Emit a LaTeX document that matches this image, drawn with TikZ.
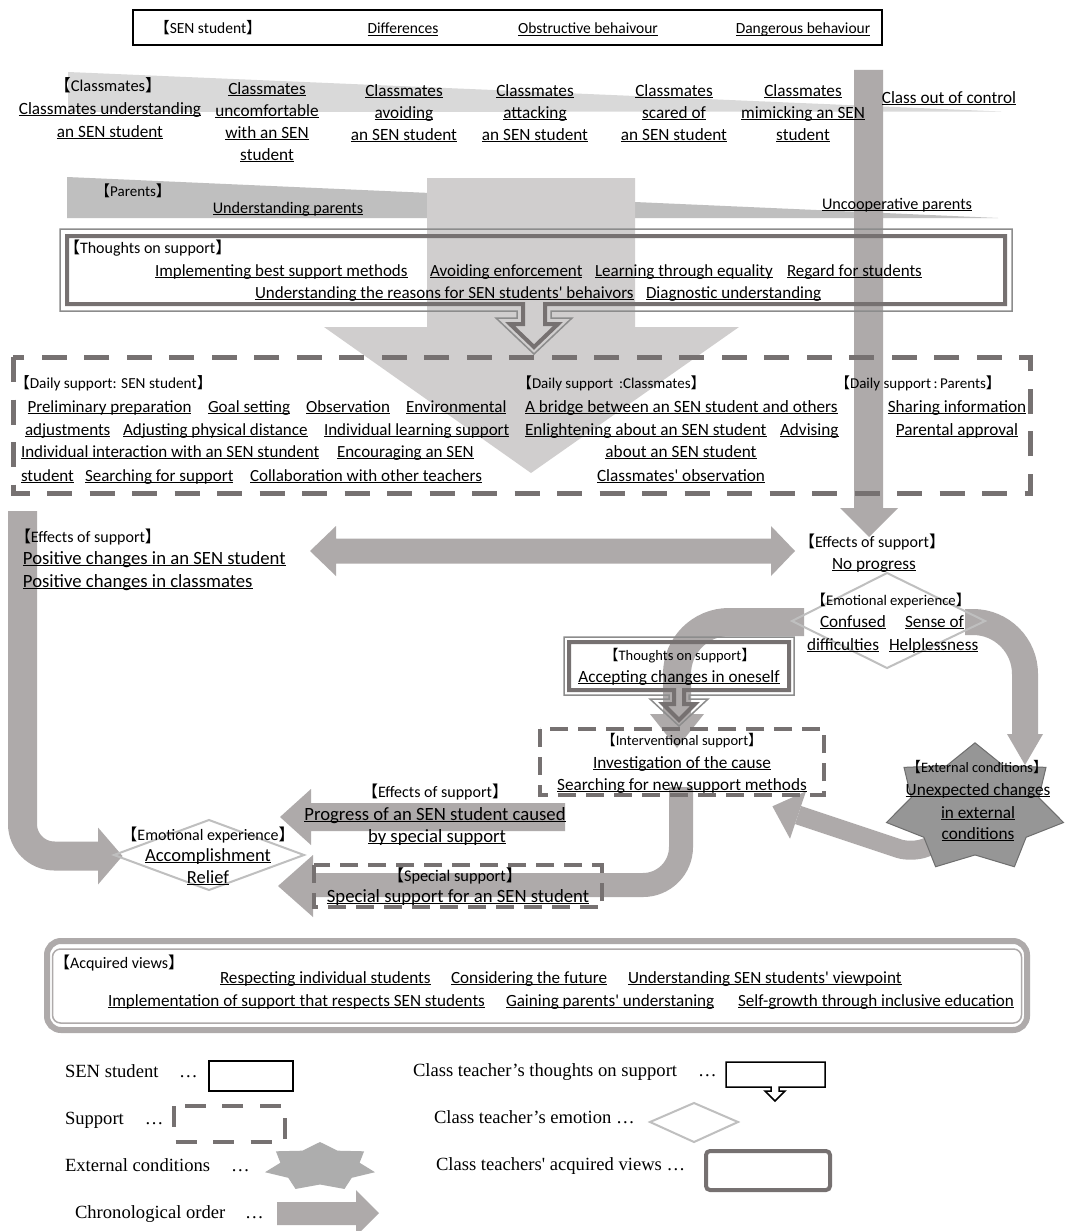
\documentclass[tikz,border=0pt]{standalone}
\usepackage{fontspec}
\setmainfont{Carlito}[Ligatures=TeXOff]
\newfontfamily\cjk{Noto Sans CJK JP}
\newfontfamily\tms{Liberation Serif}[Ligatures=TeXOff]
\definecolor{bandA}{HTML}{D9D9D9}
\definecolor{bandB}{HTML}{BFBFBF}
\definecolor{bigA}{HTML}{D0CECE}
\definecolor{chrono}{HTML}{AEAAAA}
\definecolor{dashC}{HTML}{767171}
\definecolor{thinC}{HTML}{8C8C8C}
\definecolor{diaC}{HTML}{BFBFBF}
\definecolor{starF}{HTML}{969696}
\definecolor{starD}{HTML}{6E6E6E}
\definecolor{starL}{HTML}{ADADAD}
\newsavebox\ulbx
\newcommand\uln[1]{\sbox\ulbx{#1}\rlap{\rule[-0.13em]{\wd\ulbx}{0.065em}}\usebox\ulbx}
\newcommand\hdr[1]{{\cjk 【}#1{\cjk 】}}
\newcommand\fsz[1]{\fontsize{#1}{#1}\selectfont}
\begin{document}
\begin{tikzpicture}[x=1pt,y=-1pt,
 txt/.style={inner sep=0pt,outer sep=0pt,anchor=base},
 txw/.style={txt,anchor=base west},
 bigdash/.style={draw=dashC,line width=5pt,dash pattern=on 25pt off 17.5pt},
 smdash/.style={draw=dashC,line width=4pt,dash pattern=on 18pt off 10pt},
 dia/.style={draw=diaC,line width=2pt,line join=miter},
 thinline/.style={draw=thinC,line width=1.5pt,line join=miter},
 thickline/.style={draw=dashC,line width=4pt,line join=miter}]

\useasboundingbox (0,0) rectangle (1067,1231);
\fill[white] (0,0) rectangle (1067,1231);

% ---- bands
\fill[bandA] (68,72) -- (1001,111.5) -- (68,112) -- cycle;
\fill[bandB] (67,177) -- (998,218) -- (67,218) -- cycle;
% ---- big light arrow
\fill[bigA] (427,178) -- (635,178) -- (635,327) -- (739,327) -- (531,473) -- (324,327) -- (427,327) -- cycle;
% ---- right vertical arrow
\fill[chrono] (854,70) -- (883,70) -- (883,508) -- (898,508) -- (869,537) -- (840,508) -- (854,508) -- cycle;
% ---- left effects arrow
\draw[chrono, line width=29pt, rounded corners=32pt] (22.5,511) -- (22.5,856) -- (99,856);
\fill[chrono] (98,827.5) -- (122.5,856) -- (98,884.5) -- cycle;
% ---- double arrow
\fill[chrono] (310,551) -- (336,526) -- (336,538.5) -- (771,538.5) -- (771,526) -- (795,551) -- (771,576) -- (771,563.5) -- (336,563.5) -- (336,576) -- cycle;
% ---- arc from diamond to the left
\draw[chrono, line width=28pt, rounded corners=52pt] (804,622) -- (677,622) -- (677,715);
\fill[chrono] (650,714) -- (704,714) -- (677,748) -- cycle;
% ---- interventional -> accomplishment
\draw[chrono, line width=24pt, rounded corners=38pt] (681,787) -- (681,885) -- (312,885);
\fill[chrono] (313,855) -- (313,917) -- (278,886) -- cycle;
% ---- progress arrow
\fill[chrono] (280,817) -- (311,789) -- (311,803) -- (565,803) -- (565,831) -- (311,831) -- (311,845) -- cycle;
% ---- star arrow
\draw[chrono, line width=19pt, rounded corners=14pt] (950,838) -- (912,853) -- (798,815);
\fill[chrono] (806,791.3) -- (772.4,806.3) -- (790,838.7) -- cycle;
% ---- star
\filldraw[fill=starF, draw=starD, line width=1pt] plot[samples at={0,...,13}] ({975+90.8*(0.86+0.14*cos(\x*180))*cos(90+\x*360/14)}, {808-65.2*(0.86+0.14*cos(\x*180))*sin(90+\x*360/14)}) -- cycle;
% ---- arc from diamond to the right
\draw[chrono, line width=26pt, rounded corners=52pt] (965,622) -- (1025,622) -- (1025,735);
\fill[chrono] (1007,734) -- (1043,734) -- (1025,765) -- cycle;

% ---- boxes
\draw[black, line width=2pt] (133,10) rectangle (882,45);
\draw[thinline] (60,229) -- (1012,229) -- (1012,311) -- (551,311) -- (551,318) -- (572,318) -- (534,354) -- (496,318) -- (517,318) -- (517,311) -- (60,311) -- cycle;
\draw[thickline] (67,236) -- (1005,236) -- (1005,304) -- (545,304) -- (545,324) -- (558,324) -- (534,347) -- (510,324) -- (523,324) -- (523,304) -- (67,304) -- cycle;
\draw[bigdash] (13,357) rectangle (1030,493);
\draw[thinline] (564,637) -- (794,637) -- (794,695) -- (689,695) -- (689,699) -- (708,699) -- (679,726) -- (650,699) -- (669,699) -- (669,695) -- (564,695) -- cycle;
\draw[thickline] (569,642) -- (789,642) -- (789,690) -- (684,690) -- (684,704) -- (695,704) -- (679,720) -- (663,704) -- (674,704) -- (674,690) -- (569,690) -- cycle;
\draw[smdash] (540,729) rectangle (824,795);
\draw[smdash] (314,865) rectangle (602,907);
\draw[dia] (887,573) -- (985,621) -- (887,668) -- (792,621) -- cycle;
\draw[dia] (209,820) -- (304,855) -- (209,890) -- (114,855) -- cycle;
\draw[chrono, line width=6pt, rounded corners=14pt] (47,941) rectangle (1027,1030);
\draw[chrono, line width=1.5pt, rounded corners=8pt] (52.5,949) rectangle (1021.5,1023);

% ---- header texts
\node[txt, font=\fsz{15.5}] (hs) at (208,34) {\hdr{SEN student}};
\node[txt, font=\fsz{15.5}] (hd1) at (403,34) {\uln{Differences}};
\node[txt, font=\fsz{15.5}] (hd2) at (588,34) {\uln{Obstructive behaivour}};
\node[txt, font=\fsz{15.5}] (hd3) at (803,34) {\uln{Dangerous behaviour}};

% ---- classmates
\node[txt, font=\fsz{16.5}] (cm0) at (108,91) {\hdr{Classmates}};
\node[txt, font=\fsz{17.2}] (c1a) at (110,114) {\uln{Classmates understanding}};
\node[txt, font=\fsz{17.2}] (c1b) at (110,137) {\uln{an SEN student}};
\node[txt, font=\fsz{17.2}] (c2a) at (267,94) {\uln{Classmates}};
\node[txt, font=\fsz{17.2}] (c2b) at (267,116) {\uln{uncomfortable}};
\node[txt, font=\fsz{17.2}] (c2c) at (267,138) {\uln{with an SEN}};
\node[txt, font=\fsz{17.2}] (c2d) at (267,160) {\uln{student}};
\node[txt, font=\fsz{17.2}] (c3a) at (404,96) {\uln{Classmates}};
\node[txt, font=\fsz{17.2}] (c3b) at (404,118) {\uln{avoiding}};
\node[txt, font=\fsz{17.2}] (c3c) at (404,140) {\uln{an SEN student}};
\node[txt, font=\fsz{17.2}] (c4a) at (535,96) {\uln{Classmates}};
\node[txt, font=\fsz{17.2}] (c4b) at (535,118) {\uln{attacking}};
\node[txt, font=\fsz{17.2}] (c4c) at (535,140) {\uln{an SEN student}};
\node[txt, font=\fsz{17.2}] (c5a) at (674,96) {\uln{Classmates}};
\node[txt, font=\fsz{17.2}] (c5b) at (674,118) {\uln{scared of}};
\node[txt, font=\fsz{17.2}] (c5c) at (674,140) {\uln{an SEN student}};
\node[txt, font=\fsz{17.2}] (c6a) at (803,96) {\uln{Classmates}};
\node[txt, font=\fsz{17.2}] (c6b) at (803,118) {\uln{mimicking an SEN}};
\node[txt, font=\fsz{17.2}] (c6c) at (803,140) {\uln{student}};
\node[txt, font=\fsz{17.2}] (c7) at (949,103) {\uln{Class out of control}};

% ---- parents
\node[txt, font=\fsz{15}] (pa0) at (133,196) {\hdr{Parents}};
\node[txt, font=\fsz{16.2}] (pa1) at (288,213) {\uln{Understanding parents}};
\node[txt, font=\fsz{16.2}] (pa2) at (897,209) {\uln{Uncooperative parents}};

% ---- thoughts on support
\node[txw, font=\fsz{16}] (th0) at (64,253) {\hdr{Thoughts on support}};
\node[txw, font=\fsz{17}] (th1) at (155,276) {\uln{Implementing best support methods}};
\node[txw, font=\fsz{17}] (th2) at (430,276) {\uln{Avoiding enforcement}};
\node[txw, font=\fsz{17}] (th3) at (595,276) {\uln{Learning through equality}};
\node[txw, font=\fsz{17}] (th4) at (787,276) {\uln{Regard for students}};
\node[txw, font=\fsz{17}] (th5) at (255,298) {\uln{Understanding the reasons for SEN students' behaivors}};
\node[txw, font=\fsz{17}] (th6) at (646,298) {\uln{Diagnostic understanding}};

% ---- daily support
\node[txw, font=\fsz{15.3}] (ds0) at (14.5,388) {\hdr{Daily support: SEN student}};
\node[txw, font=\fsz{17}] (d1) at (27.5,412) {\uln{Preliminary preparation}};
\node[txw, font=\fsz{17}] (d2) at (208,412) {\uln{Goal setting}};
\node[txw, font=\fsz{17}] (d3) at (306,412) {\uln{Observation}};
\node[txw, font=\fsz{17}] (d4) at (406,412) {\uln{Environmental}};
\node[txw, font=\fsz{17}] (d5) at (25,435) {\uln{adjustments}};
\node[txw, font=\fsz{17}] (d6) at (123,435) {\uln{Adjusting physical distance}};
\node[txw, font=\fsz{17}] (d7) at (324,435) {\uln{Individual learning support}};
\node[txw, font=\fsz{17}] (d8) at (21,457) {\uln{Individual interaction with an SEN stundent}};
\node[txw, font=\fsz{17}] (d9) at (337,457) {\uln{Encouraging an SEN}};
\node[txw, font=\fsz{17}] (d10) at (21,481) {\uln{student}};
\node[txw, font=\fsz{17}] (d11) at (85,481) {\uln{Searching for support}};
\node[txw, font=\fsz{17}] (d12) at (250,481) {\uln{Collaboration with other teachers}};
\node[txw, font=\fsz{15}] (dc0) at (517,388) {\hdr{Daily support\ \,:Classmates}};
\node[txw, font=\fsz{17.2}] (dc1) at (525,412) {\uln{A bridge between an SEN student and others}};
\node[txw, font=\fsz{17.2}] (dc2) at (525,435) {\uln{Enlightening about an SEN student}};
\node[txw, font=\fsz{17.2}] (dc3) at (780,435) {\uln{Advising}};
\node[txt, font=\fsz{17.2}] (dc4) at (681,457) {\uln{about an SEN student}};
\node[txt, font=\fsz{17.2}] (dc5) at (681,481) {\uln{Classmates' observation}};
\node[txt, font=\fsz{15}] (dp0) at (918,388) {\hdr{Daily support\,:\,Parents}};
\node[txt, font=\fsz{17.2}] (dp1) at (957,412) {\uln{Sharing information}};
\node[txt, font=\fsz{17.2}] (dp2) at (957,435) {\uln{Parental approval}};

% ---- effects (left)
\node[txw, font=\fsz{16}] (el0) at (15,542) {\hdr{Effects of support}};
\node[txw, font=\fsz{18.7}] (el1) at (23,564) {\uln{Positive changes in an SEN student}};
\node[txw, font=\fsz{18.7}] (el2) at (23,587) {\uln{Positive changes in classmates}};

% ---- effects (right)
\node[txt, font=\fsz{16}] (er0) at (872,547) {\hdr{Effects of support}};
\node[txt, font=\fsz{17.2}] (er1) at (874,569) {\uln{No progress}};
\node[txt, font=\fsz{14.7}] (em0) at (891,605) {\hdr{Emotional experience}};
\node[txw, font=\fsz{17.2}] (em1) at (820,627) {\uln{Confused}};
\node[txw, font=\fsz{17.2}] (em2) at (905,627) {\uln{Sense of}};
\node[txw, font=\fsz{17.2}] (em3) at (807,650) {\uln{difficulties}};
\node[txw, font=\fsz{17.2}] (em4) at (889,650) {\uln{Helplessness}};

% ---- thoughts 2 and interventional
\node[txt, font=\fsz{14.5}] (tt0) at (680,660) {\hdr{Thoughts on support}};
\node[txt, font=\fsz{17.2}] (tt1) at (679,682) {\uln{Accepting changes in oneself}};
\node[txt, font=\fsz{14.5}] (iv0) at (682,745) {\hdr{Interventional support}};
\node[txt, font=\fsz{17.2}] (iv1) at (682,768) {\uln{Investigation of the cause}};
\node[txt, font=\fsz{17.2}] (iv2) at (682,790) {\uln{Searching for new support methods}};

% ---- external conditions
\node[txt, font=\fsz{14.4}] (ex0) at (977,772) {\hdr{External conditions}};
\node[txt, font=\fsz{17.2}] (ex1) at (978,795) {\uln{Unexpected changes}};
\node[txt, font=\fsz{17.2}] (ex2) at (978,818) {\uln{in external}};
\node[txt, font=\fsz{17.2}] (ex3) at (978,839) {\uln{conditions}};

% ---- bottom-left
\node[txt, font=\fsz{16}] (pr0) at (435,797) {\hdr{Effects of support}};
\node[txt, font=\fsz{18.7}] (pr1) at (435,820) {\uln{Progress of an SEN student caused}};
\node[txt, font=\fsz{18.7}] (pr2) at (437,842) {\uln{by special support}};
\node[txt, font=\fsz{16}] (ac0) at (208,840) {\hdr{Emotional experience}};
\node[txt, font=\fsz{18.5}] (ac1) at (208,861) {\uln{Accomplishment}};
\node[txt, font=\fsz{18.5}] (ac2) at (208,883) {\uln{Relief}};
\node[txt, font=\fsz{16.3}] (sp0) at (455,881) {\hdr{Special support}};
\node[txt, font=\fsz{18.7}] (sp1) at (458,902) {\uln{Special support for an SEN student}};

% ---- acquired views
\node[txw, font=\fsz{16}] (aq0) at (54,968) {\hdr{Acquired views}};
\node[txw, font=\fsz{17.1}] (aq1) at (220,983) {\uln{Respecting individual students}};
\node[txw, font=\fsz{17.1}] (aq2) at (451,983) {\uln{Considering the future}};
\node[txw, font=\fsz{17.1}] (aq3) at (628,983) {\uln{Understanding SEN students' viewpoint}};
\node[txw, font=\fsz{17.1}] (aq4) at (108,1006) {\uln{Implementation of support that respects SEN students}};
\node[txw, font=\fsz{17.1}] (aq5) at (506,1006) {\uln{Gaining parents' understaning}};
\node[txw, font=\fsz{17.1}] (aq6) at (738,1006) {\uln{Self-growth through inclusive education}};

% ---- legend
\node[txw, font=\tms\fsz{18.6}] (lg1) at (65,1077) {\makebox[114pt][l]{SEN student}…};
\draw[black, line width=1.5pt] (209,1061) rectangle (293,1091);
\node[txw, font=\tms\fsz{18.6}] (lg2) at (65,1124) {\makebox[80pt][l]{Support}…};
\draw[draw=dashC, line width=4.5pt, dash pattern=on 21pt off 16.5pt] (174,1106) rectangle (285,1142);
\node[txw, font=\tms\fsz{18.6}] (lg3) at (65,1171) {\makebox[166pt][l]{External conditions}…};
\fill[starL] plot[samples at={0,...,13}] ({320+56.4*(0.86+0.14*cos(\x*180))*cos(90+\x*360/14)}, {1166.7-24.7*(0.86+0.14*cos(\x*180))*sin(90+\x*360/14)}) -- cycle;
\node[txw, font=\tms\fsz{18.6}] (lg4) at (75,1218) {\makebox[170pt][l]{Chronological order}…};
\fill[chrono] (277,1202) -- (356,1202) -- (356,1190) -- (379,1213) -- (356,1236) -- (356,1225) -- (277,1225) -- cycle;
\node[txw, font=\tms\fsz{18.6}] (lg5) at (413,1076) {\makebox[285pt][l]{Class teacher’s thoughts on support}…};
\draw[black, line width=1.5pt, line join=miter] (726,1062) -- (825,1062) -- (825,1087) -- (779,1087) -- (779,1091) -- (785,1091) -- (775,1101) -- (765,1091) -- (771,1091) -- (771,1087) -- (726,1087) -- cycle;
\node[txw, font=\tms\fsz{18.6}] (lg6) at (434,1123) {Class teacher’s emotion …};
\draw[dia] (650,1122) -- (694,1103) -- (738,1122) -- (694,1142) -- cycle;
\node[txw, font=\tms\fsz{18.6}] (lg7) at (436,1170) {Class teachers' acquired views …};
\draw[draw=dashC, line width=4pt, rounded corners=4pt] (706,1151) rectangle (830,1190);
\end{tikzpicture}
\end{document}
